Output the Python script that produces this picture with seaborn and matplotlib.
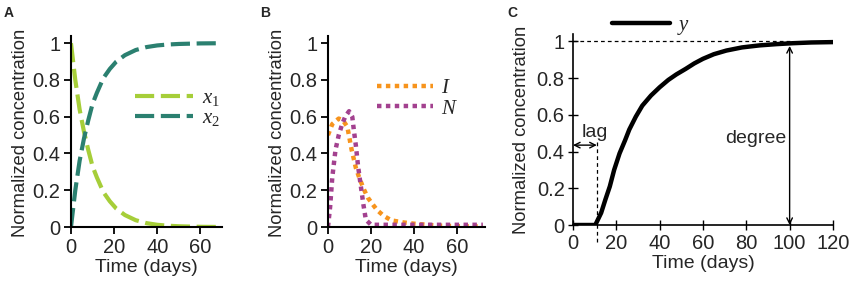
import numpy as np
import pandas as pd
import seaborn as sns
import matplotlib.pyplot as plt

# ---- data ----
t_a = [0, 2, 4, 6, 8, 10, 12, 15, 18, 21, 25, 30, 35, 40, 45, 50, 60, 70]
x1 = [1.0, 0.80, 0.64, 0.52, 0.42, 0.33, 0.27, 0.19, 0.14, 0.10, 0.065, 0.037,
      0.021, 0.012, 0.007, 0.004, 0.001, 0.0]
x2 = [0.0, 0.20, 0.36, 0.48, 0.58, 0.67, 0.73, 0.81, 0.86, 0.90, 0.935, 0.963,
      0.979, 0.988, 0.993, 0.996, 0.999, 1.0]

t_i = [0, 2, 5, 7, 9, 11, 13, 14.5, 16.5, 18.5, 21, 23, 26, 29.5, 35, 40, 50, 60, 72]
i_vals = [0.50, 0.56, 0.59, 0.58, 0.545, 0.42, 0.32, 0.27, 0.21, 0.16, 0.12, 0.09,
          0.06, 0.036, 0.025, 0.018, 0.008, 0.004, 0.003]
t_n = [0, 1, 2, 3.5, 5, 6.6, 8, 9.8, 11.3, 12, 13, 14, 15.3, 16.5, 17.6, 20, 30, 50, 72]
n_vals = [0.0, 0.11, 0.27, 0.42, 0.50, 0.56, 0.60, 0.63, 0.60, 0.53, 0.44, 0.33,
          0.22, 0.12, 0.04, 0.012, 0.012, 0.012, 0.012]

t_c = [0, 5, 10.3, 13, 15, 17, 19, 21.5, 24, 26, 29, 32, 36, 40, 44, 47.7, 52,
       56, 60, 65, 70.8, 78, 86, 94, 101.5, 110, 120]
y_vals = [0.0, 0.0, 0.0, 0.066, 0.14, 0.21, 0.30, 0.39, 0.46, 0.52, 0.59, 0.65,
          0.705, 0.75, 0.79, 0.82, 0.85, 0.88, 0.905, 0.93, 0.95, 0.967, 0.978,
          0.985, 0.99, 0.994, 0.996]

lag_day = 11
degree_day = 100

green, teal = "#a6ce39", "#2b8070"
orange, purple = "#f7941d", "#a3418f"

sns.set_style("ticks")
plt.rcParams["font.family"] = ["Liberation Sans", "DejaVu Sans"]
plt.rcParams["mathtext.fontset"] = "custom"
plt.rcParams["mathtext.it"] = "Liberation Serif:italic"
plt.rcParams["mathtext.rm"] = "Liberation Serif"

fig = plt.figure(figsize=(8.51, 2.84), dpi=100)
ax_a = fig.add_axes([0.0834, 0.2007, 0.1775, 0.673])
ax_b = fig.add_axes([0.3854, 0.2007, 0.1845, 0.673])
ax_c = fig.add_axes([0.6733, 0.2077, 0.3055, 0.6725])

df_a = pd.DataFrame({
    "t": t_a + t_a,
    "conc": x1 + x2,
    "series": ["$x_1$"] * len(t_a) + ["$x_2$"] * len(t_a),
})
df_b = pd.DataFrame({
    "t": t_i + t_n,
    "conc": i_vals + n_vals,
    "series": ["$I$"] * len(t_i) + ["$N$"] * len(t_n),
})
df_c = pd.DataFrame({"t": t_c, "conc": y_vals, "series": "$y$"})

sns.lineplot(data=df_a, x="t", y="conc", hue="series", style="series",
             palette={"$x_1$": green, "$x_2$": teal},
             dashes={"$x_1$": (4.6, 1.6), "$x_2$": (4.6, 1.6)},
             linewidth=3, ax=ax_a)
sns.lineplot(data=df_b, x="t", y="conc", hue="series", style="series",
             palette={"$I$": orange, "$N$": purple},
             dashes={"$I$": (1, 1), "$N$": (1, 1)},
             linewidth=3.2, ax=ax_b)
sns.lineplot(data=df_c, x="t", y="conc", color="black", linewidth=3.2,
             label="$y$", ax=ax_c)
for ln in ax_b.get_lines():
    ln.set_dash_capstyle("butt")

# annotations in panel C
ax_c.plot([0, degree_day + 1], [1, 1], color="black", lw=0.9, ls=(0, (3, 2.5)))
ax_c.plot([lag_day, lag_day], [-0.09, 0.45], color="black", lw=0.9,
          ls=(0, (3, 2.5)), clip_on=False)
ax_c.annotate("", xy=(0, 0.435), xytext=(lag_day, 0.435),
              arrowprops=dict(arrowstyle="<->", lw=1, color="black",
                              shrinkA=0, shrinkB=0))
ax_c.text(10, 0.48, "lag", ha="center", va="baseline", fontsize=14)
ax_c.annotate("", xy=(degree_day, 0.0), xytext=(degree_day, 0.975),
              arrowprops=dict(arrowstyle="<->", lw=1, color="black",
                              shrinkA=0, shrinkB=0))
ax_c.text(84.5, 0.47, "degree", ha="center", va="center", fontsize=14)

for ax, xmax, xticks in [(ax_a, 70, [0, 20, 40, 60]),
                         (ax_b, 73, [0, 20, 40, 60]),
                         (ax_c, 120, list(range(0, 121, 20)))]:
    ax.set_xlim(0, xmax)
    ax.set_ylim(0, 1.04)
    ax.set_xticks(xticks)
    ax.set_yticks([0, 0.2, 0.4, 0.6, 0.8, 1])
    ax.set_yticklabels(["0", "0.2", "0.4", "0.6", "0.8", "1"])
    for side in ["top", "right"]:
        ax.spines[side].set_visible(False)
    for side in ["left", "bottom"]:
        ax.spines[side].set_linewidth(1.5)
        ax.spines[side].set_color("black")
    ax.tick_params(labelsize=14.5, width=1.3, length=5, color="black", pad=2.5)
    ax.tick_params(axis="x", pad=3)
    ax.set_xlabel("Time (days)", fontsize=14, labelpad=1.5)
    ax.set_ylabel("Normalized concentration", fontsize=13.2)

ax_c.tick_params(direction="inout", length=7, width=1)
ax_c.spines["left"].set_linewidth(1.2)
ax_c.spines["bottom"].set_linewidth(1.2)

ax_a.yaxis.set_label_coords(-0.277, 0.49)
ax_b.yaxis.set_label_coords(-0.27, 0.49)
ax_c.yaxis.set_label_coords(-0.165, 0.5)

# legends
h, l = ax_a.get_legend_handles_labels()
ax_a.legend(h, l, loc="center left", bbox_to_anchor=(0.424, 0.62), frameon=False,
            fontsize=15, handlelength=2.8, handletextpad=0.4, labelspacing=0.0,
            borderpad=0, borderaxespad=0)
h, l = ax_b.get_legend_handles_labels()
ax_b.legend(h, l, loc="center left", bbox_to_anchor=(0.31, 0.675), frameon=False,
            fontsize=15, handlelength=2.7, handletextpad=0.4, labelspacing=0.05,
            borderpad=0, borderaxespad=0)
h, l = ax_c.get_legend_handles_labels()
ax_c.legend(h, l, loc="center left", bbox_to_anchor=(0.15, 1.04), frameon=False,
            fontsize=15, handlelength=2.8, handletextpad=0.3, borderpad=0,
            borderaxespad=0)

for x, lab in [(0.004, "A"), (0.306, "B"), (0.596, "C")]:
    fig.text(x, 0.955, lab, fontsize=10, fontweight="bold", va="center")

fig.savefig("out.png", dpi=100)
